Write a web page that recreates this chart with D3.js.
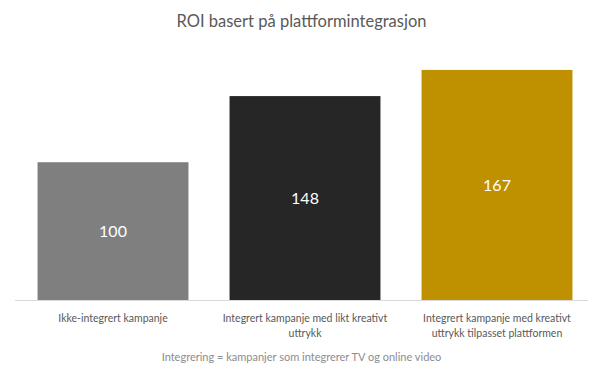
<!DOCTYPE html>
<html><head><meta charset="utf-8">
<script src="https://cdn.jsdelivr.net/npm/d3@7"></script>
<style>body{margin:0;background:#fff}svg{display:block;font-family:Lato,"Open Sans",sans-serif}</style>
</head><body>
<script>
const categories = [
  ["Ikke-integrert kampanje"],
  ["Integrert kampanje med likt kreativt", "uttrykk"],
  ["Integrert kampanje med kreativt", "uttrykk tilpasset plattformen"]
];
const values = [100, 148, 167];
const colors = ["#7f7f7f", "#262626", "#bf9000"];
const title = "ROI basert på plattformintegrasjon";
const footnote = "Integrering = kampanjer som integrerer TV og online video";

const W = 603, H = 380;
const svg = d3.select("body").append("svg").attr("width", W).attr("height", H);
const m = {left: 17, right: 10, top: 52, bottom: 80};
const x = d3.scaleBand().domain(d3.range(values.length)).range([m.left, W - m.right]).paddingInner(0.214).paddingOuter(0.107);
const y = d3.scaleLinear().domain([0, 180]).range([H - m.bottom, m.top]);

svg.append("text").attr("x", W/2).attr("y", 27).attr("text-anchor", "middle")
  .attr("font-size", 16.5).attr("fill", "#595959").text(title);

svg.append("line").attr("x1", 15).attr("x2", 588).attr("y1", y(0) + 0.5).attr("y2", y(0) + 0.5)
  .attr("stroke", "#d9d9d9").attr("stroke-width", 1);

svg.selectAll("rect.bar").data(values).join("rect").attr("class", "bar")
  .attr("x", (d, i) => x(i)).attr("width", x.bandwidth())
  .attr("y", d => y(d)).attr("height", d => y(0) - y(d))
  .attr("fill", (d, i) => colors[i]);

svg.selectAll("text.val").data(values).join("text").attr("class", "val")
  .attr("x", (d, i) => x(i) + x.bandwidth()/2)
  .attr("y", d => (y(d) + y(0))/2 + 6)
  .attr("text-anchor", "middle").attr("font-size", 16).attr("fill", "#ffffff")
  .text(d => d);

const lab = svg.selectAll("text.cat").data(categories).join("text").attr("class", "cat")
  .attr("text-anchor", "middle").attr("font-size", 10.5).attr("fill", "#595959");
lab.selectAll("tspan").data((d, i) => d.map(s => ({s, i}))).join("tspan")
  .attr("x", d => x(d.i) + x.bandwidth()/2)
  .attr("y", (d, j) => 322 + j * 15)
  .text(d => d.s);

svg.append("text").attr("x", W/2).attr("y", 361).attr("text-anchor", "middle")
  .attr("font-size", 11).attr("fill", "#8c8c8c").text(footnote);
</script>
</body></html>
